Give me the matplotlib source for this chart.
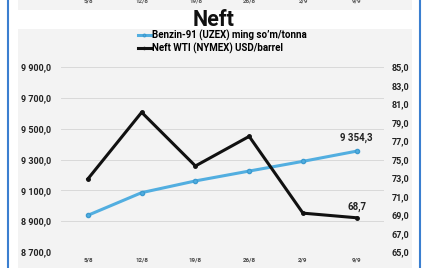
import matplotlib
matplotlib.use('Agg')
import matplotlib.pyplot as plt
from matplotlib.patches import Rectangle
from matplotlib.lines import Line2D

# ---- data ----
dates = ['5/8', '12/8', '19/8', '26/8', '2/9', '9/9']
benzin = [8938, 9085, 9161, 9225, 9288, 9354.3]
wti = [72.9, 80.1, 74.3, 77.5, 69.2, 68.7]
left_ticks = [8700, 8900, 9100, 9300, 9500, 9700, 9900]
right_ticks = [65, 67, 69, 71, 73, 75, 77, 79, 81, 83, 85]
label_benzin = "Benzin-91 (UZEX) ming so\u2019m/tonna"
label_wti = "Neft WTI (NYMEX) USD/barrel"
title = "Neft"

plt.rcParams['font.family'] = ['Roboto', 'DejaVu Sans']
plt.rcParams['font.weight'] = 'bold'

W, H = 422, 268
fig = plt.figure(figsize=(W / 100, H / 100), dpi=100)
fig.patch.set_facecolor('white')

def fx(x):
    return x / W

def fy(y):
    return 1 - y / H

def fmt(v):
    s = '{:,.1f}'.format(v)
    return s.replace(',', 'X').replace('.', ',').replace('X', ' ')

panel = '#f3f3f3'
# background panels
fig.add_artist(Rectangle((fx(18), fy(10)), fx(412) - fx(18), fy(0) - fy(10),
                         transform=fig.transFigure, facecolor=panel, edgecolor='none', zorder=-10))
fig.add_artist(Rectangle((fx(18), fy(268)), fx(412) - fx(18), fy(29) - fy(268),
                         transform=fig.transFigure, facecolor=panel, edgecolor='none', zorder=-10))
# blue frame lines
for xb in (8, 420):
    fig.add_artist(Line2D([fx(xb), fx(xb)], [0, 1], transform=fig.transFigure,
                          color='#3b7fd0', linewidth=1.5, zorder=-5))

# previous chart's cut labels on top
for i, d in enumerate(dates):
    xx = 88.5 + i * 53.7
    fig.text(fx(xx), fy(1), d, fontsize=4.5, ha='center', va='center', color='#555555')

# title
fig.text(fx(214), fy(19.5), title, fontsize=15.5, fontweight='bold', ha='center', va='center', color='#111111')

# axes
ax = fig.add_axes([fx(61), fy(252), fx(383.6) - fx(61), fy(67) - fy(252)])
ax.set_facecolor('none')
ax2 = ax.twinx()
ax2.set_facecolor('none')

x = list(range(len(dates)))
l1, = ax.plot(x, benzin, color='#52aee0', linewidth=2.2, marker='o', markersize=3,
              markerfacecolor='#52aee0', markeredgecolor='#3d9bd0', zorder=3)
l2, = ax2.plot(x, wti, color='#111111', linewidth=2.2, marker='o', markersize=2.5,
               markerfacecolor='#111111', zorder=3)

ax.set_xlim(-0.5, len(dates) - 0.5)
ax.set_ylim(left_ticks[0], left_ticks[-1])
ax2.set_ylim(right_ticks[0], right_ticks[-1])
ax.set_yticks(left_ticks)
ax.set_yticklabels([fmt(v) for v in left_ticks], fontsize=6.5, fontweight='bold', color='#222222')
ax2.set_yticks(right_ticks)
ax2.set_yticklabels([fmt(v) for v in right_ticks], fontsize=6.5, fontweight='bold', color='#222222')
ax.set_xticks(x)
ax.set_xticklabels(dates, fontsize=4.5, fontweight='bold', color='#444444')

ax.grid(axis='y', color='#d9d9d9', linewidth=0.7)
ax.set_axisbelow(True)
for a in (ax, ax2):
    for s in a.spines.values():
        s.set_visible(False)
    a.tick_params(length=0)
ax.tick_params(axis='y', pad=7)
ax2.tick_params(axis='y', pad=6)
ax.tick_params(axis='x', pad=4)

# data labels
ax.annotate(fmt(benzin[-1]), (x[-1], benzin[-1]), xytext=(0, 6), textcoords='offset points',
            ha='center', va='bottom', fontsize=7, fontweight='bold', color='#222222')
ax2.annotate(fmt(wti[-1]), (x[-1], wti[-1]), xytext=(0, 4), textcoords='offset points',
             ha='center', va='bottom', fontsize=7, fontweight='bold', color='#222222')

# legend
fig.legend([l1, l2], [label_benzin, label_wti], loc='upper left',
           bbox_to_anchor=(fx(138), fy(29.5)), frameon=False,
           handlelength=1.3, handletextpad=0.1, labelspacing=0.15, borderpad=0,
           borderaxespad=0, markerscale=0.6, prop={'weight': 'bold', 'size': 7})

fig.savefig('out.png', dpi=100, facecolor='white')
